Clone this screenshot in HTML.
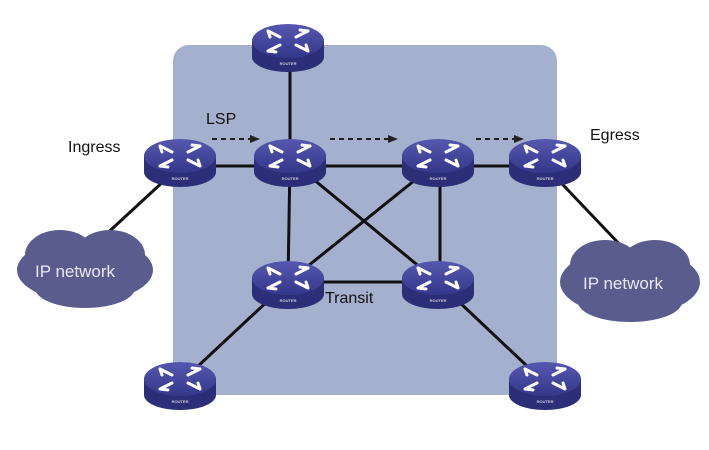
<!DOCTYPE html>
<html><head><style>body{margin:0;background:#fff}svg{display:block}</style></head><body>
<svg width="709" height="450" viewBox="0 0 709 450" xmlns="http://www.w3.org/2000/svg" font-family="Liberation Sans, sans-serif">
<defs>
<linearGradient id="tg" x1="0" y1="0" x2="0" y2="1"><stop offset="0" stop-color="#5658b0"/><stop offset="1" stop-color="#35378a"/></linearGradient>
<g id="r">
<path d="M-36,-6 L-36,10 A36,15 0 0 0 36,10 L36,-6 Z" fill="#2c2e78"/>
<ellipse cx="0" cy="-6" rx="36" ry="17" fill="url(#tg)"/>
<g stroke="#fff" stroke-width="3" fill="none" stroke-linecap="round">
<path d="M-20,-16 L-8,-10 M-20,-16 L-18,-10"/>
<path d="M20,-16 L8,-10 M20,-16 L12,-17"/>
<path d="M-20,4 L-8,-2 M-20,4 L-12,5"/>
<path d="M20,4 L8,-2 M20,4 L18,-2"/>
</g>
<text x="0" y="18" font-size="4" fill="#ccd" text-anchor="middle" font-weight="bold">ROUTER</text>
</g>
<marker id="a" markerUnits="userSpaceOnUse" markerWidth="10" markerHeight="10" refX="8" refY="5" orient="auto"><path d="M0,1 L10,5 L0,9 Z" fill="#222"/></marker>
</defs>
<rect x="173" y="45" width="384" height="350" rx="16" fill="#a5b0cf"/>
<g stroke="#111" stroke-width="3">
<line x1="290" y1="50" x2="290" y2="160"/>
<line x1="180" y1="166" x2="545" y2="166"/>
<line x1="290" y1="160" x2="288" y2="282"/>
<line x1="440" y1="160" x2="440" y2="282"/>
<line x1="290" y1="160" x2="438" y2="282"/>
<line x1="440" y1="160" x2="288" y2="282"/>
<line x1="288" y1="282" x2="438" y2="282"/>
<line x1="288" y1="282" x2="180" y2="383"/>
<line x1="438" y1="282" x2="545" y2="383"/>
<line x1="180" y1="166" x2="100" y2="240"/>
<line x1="545" y1="166" x2="625" y2="250"/>
</g>
<g stroke="#222" stroke-width="2" stroke-dasharray="5,4" marker-end="url(#a)">
<line x1="212" y1="139" x2="258" y2="139"/>
<line x1="330" y1="139" x2="396" y2="139"/>
<line x1="476" y1="139" x2="522" y2="139"/>
</g>
<use href="#r" x="288" y="47"/>
<use href="#r" x="180" y="162"/>
<use href="#r" x="290" y="162"/>
<use href="#r" x="438" y="162"/>
<use href="#r" x="545" y="162"/>
<use href="#r" x="288" y="284"/>
<use href="#r" x="438" y="284"/>
<use href="#r" x="180" y="385"/>
<use href="#r" x="545" y="385"/>
<g fill="#5a5c8e">
<ellipse cx="85" cy="270" rx="68" ry="32"/><ellipse cx="60" cy="255" rx="35" ry="25"/><ellipse cx="110" cy="255" rx="35" ry="25"/><ellipse cx="85" cy="288" rx="50" ry="20"/>
<ellipse cx="630" cy="282" rx="70" ry="34"/><ellipse cx="605" cy="265" rx="35" ry="25"/><ellipse cx="655" cy="265" rx="35" ry="25"/><ellipse cx="630" cy="302" rx="52" ry="20"/>
</g>
<g font-size="16" fill="#111">
<text x="68" y="152">Ingress</text>
<text x="590" y="140">Egress</text>
<text x="206" y="124">LSP</text>
<text x="325" y="303">Transit</text>
</g>
<g font-size="17" fill="#e8e8f4">
<text x="35" y="277">IP network</text>
<text x="583" y="289">IP network</text>
</g>
</svg>
</body></html>
